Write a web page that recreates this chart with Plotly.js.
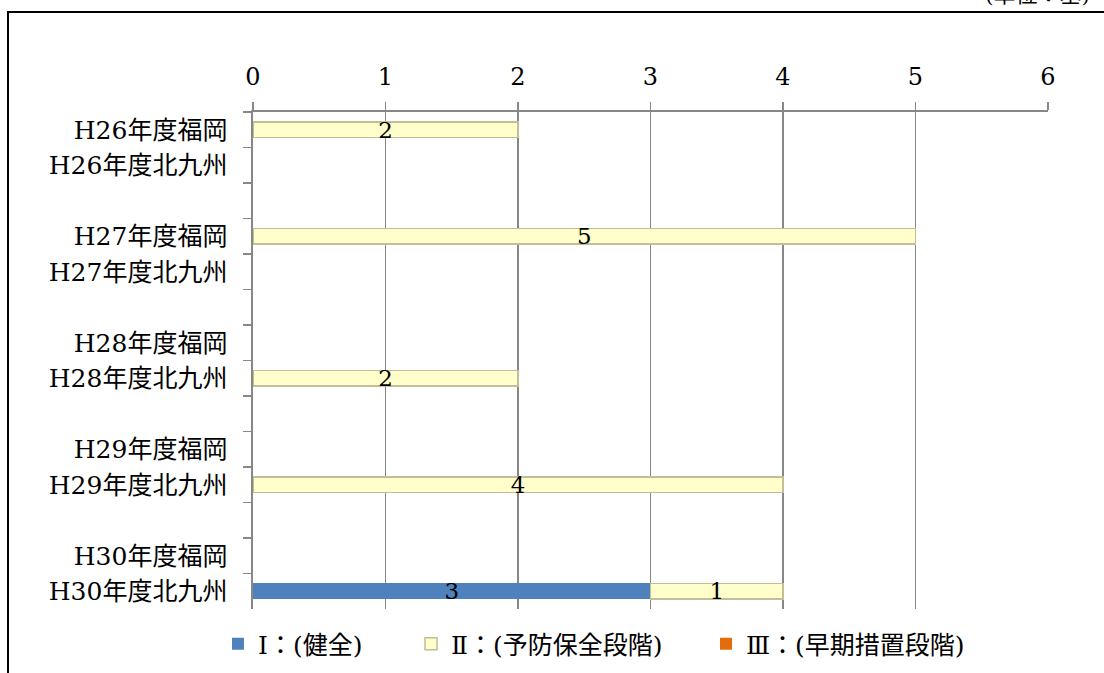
<!DOCTYPE html>
<html>
<head>
<meta charset="utf-8">
<script src="https://cdn.plot.ly/plotly-3.0.1.min.js"></script>
<style>html,body{margin:0;padding:0;background:#fff;}#chart{width:1104px;height:673px;}</style>
</head>
<body>
<div id="chart"></div>
<script>
// Categories (blank separators are distinct whitespace strings)
const categories = [
  "H26年度福岡", "H26年度北九州", " ",
  "H27年度福岡", "H27年度北九州", "  ",
  "H28年度福岡", "H28年度北九州", "   ",
  "H29年度福岡", "H29年度北九州", "    ",
  "H30年度福岡", "H30年度北九州"
];
const seriesNames = ["Ⅰ：(健全)", "Ⅱ：(予防保全段階)", "Ⅲ：(早期措置段階)"];
const seriesI   = [null, null, null, null, null, null, null, null, null, null, null, null, null, 3];
const seriesII  = [2, null, null, 5, null, null, null, 2, null, null, 4, null, null, 1];
const seriesIII = [null, null, null, null, null, null, null, null, null, null, null, null, null, null];
const xTicks = [0, 1, 2, 3, 4, 5, 6];
const unitNote = "(単位：基)";

const FONT = '"DejaVu Serif", "Noto Sans CJK JP", serif';

function barTrace(name, vals, fill, line, lw, leg) {
  return {
    type: 'bar', orientation: 'h', name: name, legend: leg,
    y: categories, x: vals,
    width: 0.44,
    marker: {color: fill, line: {color: line, width: lw}},
    texttemplate: '%{x}', textposition: 'inside', insidetextanchor: 'middle',
    textangle: 0, constraintext: 'none', cliponaxis: false,
    textfont: {family: FONT, size: 23, color: '#000'},
    hoverinfo: 'x+y'
  };
}

const data = [
  barTrace(seriesNames[0], seriesI, '#4F81BD', '#4F81BD', 0, 'legend'),
  barTrace(seriesNames[1], seriesII, '#FFFFCC', '#C4BD97', 1.5, 'legend2'),
  barTrace(seriesNames[2], seriesIII, '#E46C0A', '#E46C0A', 0, 'legend3')
];

const L = 253, R = 1048, T = 112, B = 609, W = 1104, H = 673;
const pw = R - L, ph = B - T;
const px = v => (v - L) / pw;
const py = v => (B - v) / ph;

function leg(xPix) {
  return {
    orientation: 'h', x: px(xPix), xanchor: 'left', y: py(621), yanchor: 'top',
    font: {family: FONT, size: 25, color: '#000'},
    itemwidth: 30, bgcolor: 'rgba(0,0,0,0)', borderwidth: 0
  };
}

const layout = {
  width: W, height: H,
  margin: {l: L, r: W - R, t: T, b: H - B, pad: 0, autoexpand: false},
  paper_bgcolor: '#fff', plot_bgcolor: '#fff',
  barmode: 'stack',
  font: {family: FONT, size: 22, color: '#000'},
  showlegend: true,
  legend: leg(218),
  legend2: leg(411),
  legend3: leg(706),
  xaxis: {
    side: 'top', range: [0, 6], tickvals: xTicks, ticktext: xTicks.map(String),
    showgrid: true, gridcolor: '#878787', gridwidth: 1.6,
    showline: true, linecolor: '#878787', linewidth: 1.6,
    ticks: 'outside', ticklen: 8, tickcolor: '#878787', tickwidth: 1.6,
    ticklabelstandoff: 8, automargin: false,
    tickfont: {family: FONT, size: 24, color: '#000'},
    zeroline: false, fixedrange: true
  },
  yaxis: {
    type: 'category', autorange: 'reversed',
    tickson: 'boundaries', ticks: 'outside', ticklen: 8, tickcolor: '#878787', tickwidth: 1.6,
    showline: true, linecolor: '#878787', linewidth: 1.6,
    showgrid: false, ticklabelstandoff: 19, automargin: false,
    tickfont: {family: FONT, size: 25, color: '#000'},
    fixedrange: true
  },
  shapes: [{
    type: 'rect', xref: 'paper', yref: 'paper',
    x0: px(8), x1: px(1120), y0: py(690), y1: py(12),
    line: {color: '#000', width: 2}, fillcolor: 'rgba(0,0,0,0)', layer: 'above'
  }],
  annotations: [{
    text: unitNote, xref: 'paper', yref: 'paper',
    x: px(1037), y: py(-5), xanchor: 'center', yanchor: 'middle',
    showarrow: false, font: {family: FONT, size: 22, color: '#000'}
  }]
};

Plotly.newPlot('chart', data, layout, {displayModeBar: false, staticPlot: true});
</script>
</body>
</html>
